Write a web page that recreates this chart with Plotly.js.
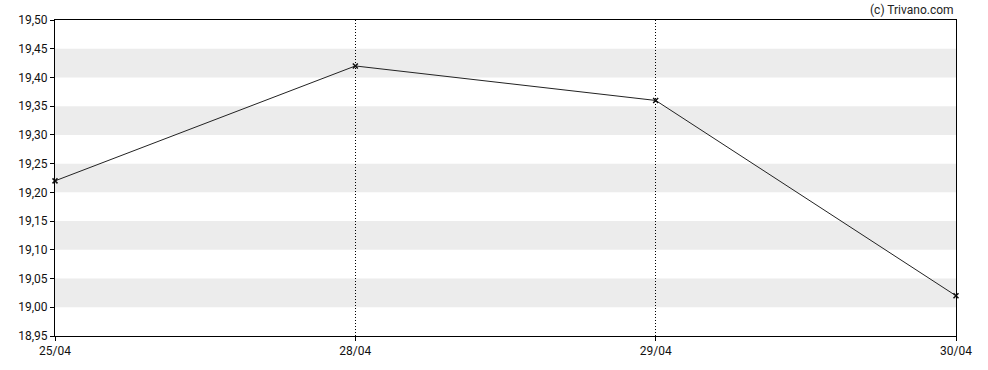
<!DOCTYPE html>
<html>
<head>
<meta charset="utf-8">
<script src="https://cdn.plot.ly/plotly-3.0.1.min.js"></script>
<style>html,body{margin:0;padding:0;background:#fff;}#chart{width:988px;height:370px;}</style>
</head>
<body>
<div id="chart"></div>
<script>
var dates = ["25/04", "28/04", "29/04", "30/04"];
var prices = [19.22, 19.42, 19.36, 19.02];
var bandStarts = [19.00, 19.10, 19.20, 19.30, 19.40];
var bandWidth = 0.05;
var yTicks = [18.95, 19.00, 19.05, 19.10, 19.15, 19.20, 19.25, 19.30, 19.35, 19.40, 19.45, 19.50];
var yTickText = yTicks.map(function(v){ return v.toFixed(2).replace('.', ','); });

var shapes = bandStarts.map(function(b){
  return {type:'rect', xref:'paper', yref:'y', x0:0, x1:1, y0:b, y1:b+bandWidth,
          fillcolor:'#ececec', line:{width:0}, layer:'below'};
});

var trace = {
  x: dates, y: prices, type:'scatter', mode:'lines+markers', cliponaxis:false,
  line:{color:'#222', width:1},
  marker:{symbol:'x-thin', size:5, color:'#111', line:{width:1.5, color:'#111'}},
  hoverinfo:'skip'
};

var layout = {
  width:988, height:370,
  margin:{l:55, r:32, t:20, b:34},
  paper_bgcolor:'#fff', plot_bgcolor:'rgba(0,0,0,0)',
  font:{family:'Roboto, Arial, sans-serif', size:12, color:'#111'},
  showlegend:false,
  shapes: shapes,
  xaxis:{type:'category', range:[0,3], showline:true, mirror:true, linecolor:'#000', linewidth:1,
         ticks:'outside', ticklen:4, tickcolor:'#000', showgrid:true, gridcolor:'#000', griddash:'1px,2px', gridwidth:1,
         zeroline:false, fixedrange:true},
  yaxis:{range:[18.95, 19.50], tickvals:yTicks, ticktext:yTickText, showline:true, mirror:true,
         linecolor:'#000', linewidth:1, ticks:'outside', ticklen:4, tickcolor:'#000', showgrid:false,
         zeroline:false, fixedrange:true},
  annotations:[{text:'(c) Trivano.com', xref:'paper', yref:'paper', x:1, y:1, xanchor:'right', yanchor:'bottom',
                yshift:1, showarrow:false, font:{size:12, color:'#222'}}]
};

Plotly.newPlot('chart', [trace], layout, {staticPlot:true, displayModeBar:false});
</script>
</body>
</html>
